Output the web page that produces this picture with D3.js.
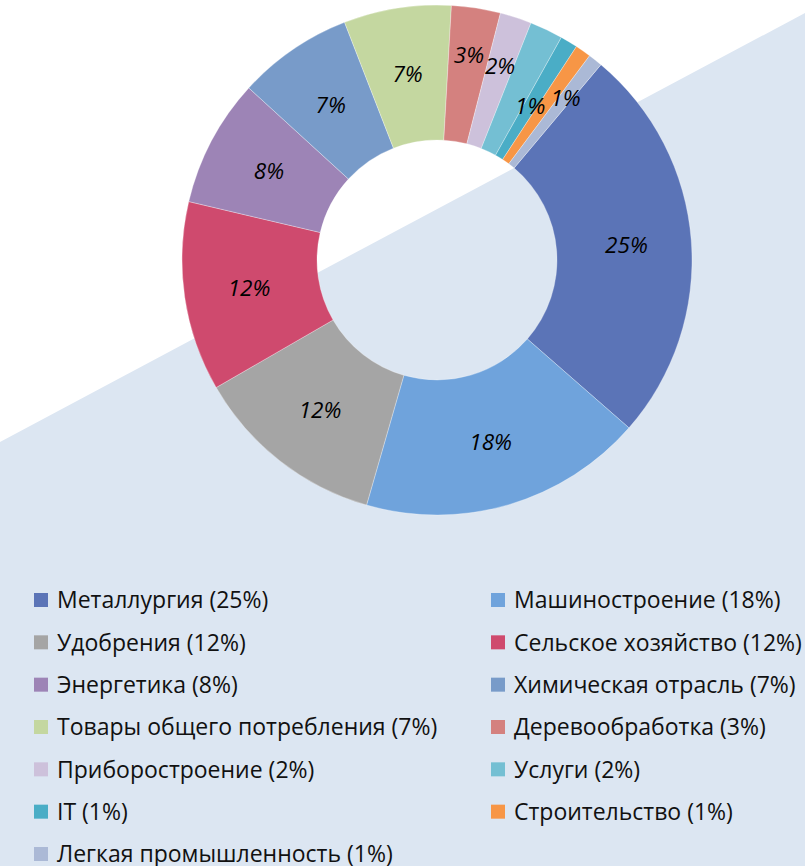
<!DOCTYPE html>
<html>
<head>
<meta charset="utf-8">
<script src="https://cdn.jsdelivr.net/npm/d3@7"></script>
<style>
  body { margin: 0; background: #fff; }
  svg { display: block; }
</style>
</head>
<body>
<div id="chart"></div>
<script>
// sector names, shares (%), colours
var sectors = ["Металлургия", "Машиностроение", "Удобрения", "Сельское хозяйство",
  "Энергетика", "Химическая отрасль", "Товары общего потребления", "Деревообработка",
  "Приборостроение", "Услуги", "IT", "Строительство", "Легкая промышленность"];
var shares = [25.3, 18, 12.2, 12, 8.1, 7.3, 6.8, 3.1, 2, 2.1, 1.1, 1, 0.9];
var colors = ["#5b74b7", "#6fa3dc", "#a5a5a5", "#cf4a6e", "#9d84b6", "#789bc9",
  "#c4d7a0", "#d4817f", "#cdc1db", "#74bfd3", "#4aadc6", "#f79646", "#abb9d6"];
// radius of each slice label, null = label hidden (as in the original)
var labelRadius = [190, 190, 190, 190, 190, 188, 188, 208, 204, null, 180, null, 207];

var width = 805, height = 866;
var cx = 437, cy = 260, outerR = 255, innerR = 120;

var svg = d3.select('#chart').append('svg')
  .attr('width', width).attr('height', height);

// diagonal light background
svg.append('path')
  .attr('d', `M0,442 L${width},13 L${width},${height} L0,${height} Z`)
  .attr('fill', '#dce6f2');

var pie = d3.pie().sort(null)
  .startAngle(40 * Math.PI / 180)
  .endAngle((40 + 360) * Math.PI / 180);
var arcs = pie(shares);

var arc = d3.arc().innerRadius(innerR).outerRadius(outerR);

var g = svg.append('g').attr('transform', `translate(${cx},${cy})`);

g.selectAll('path.slice')
  .data(arcs)
  .join('path')
  .attr('class', 'slice')
  .attr('d', arc)
  .attr('fill', (d, i) => colors[i])
  .attr('stroke', 'rgba(255,255,255,0.5)')
  .attr('stroke-width', 0.6);

g.selectAll('text.lbl')
  .data(arcs.filter((d, i) => labelRadius[i] != null))
  .join('text')
  .attr('class', 'lbl')
  .attr('transform', d => {
    var r = labelRadius[d.index];
    var c = d3.arc().innerRadius(r).outerRadius(r).centroid(d);
    return `translate(${c[0]},${c[1]})`;
  })
  .attr('text-anchor', 'middle')
  .attr('dy', '0.36em')
  .style('font-family', '"Open Sans", sans-serif')
  .style('font-style', 'italic')
  .style('font-size', '22.5px')
  .attr('fill', '#000')
  .text(d => Math.round(d.data) + '%');

// legend, two columns
var legend = svg.append('g');
var colX = [34, 491];
var rowY = d3.scaleLinear().domain([0, 6]).range([600, 854]);

var items = legend.selectAll('g')
  .data(sectors)
  .join('g')
  .attr('transform', (d, i) => `translate(${colX[i % 2]},${rowY(Math.floor(i / 2))})`);

items.append('rect')
  .attr('x', 0).attr('y', -7)
  .attr('width', 14).attr('height', 14)
  .attr('fill', (d, i) => colors[i]);

items.append('text')
  .attr('x', 23)
  .attr('dy', '0.36em')
  .style('font-family', '"Open Sans", sans-serif')
  .style('font-size', '23px')
  .attr('fill', '#111')
  .text((d, i) => `${d} (${Math.round(shares[i])}%)`);
</script>
</body>
</html>
